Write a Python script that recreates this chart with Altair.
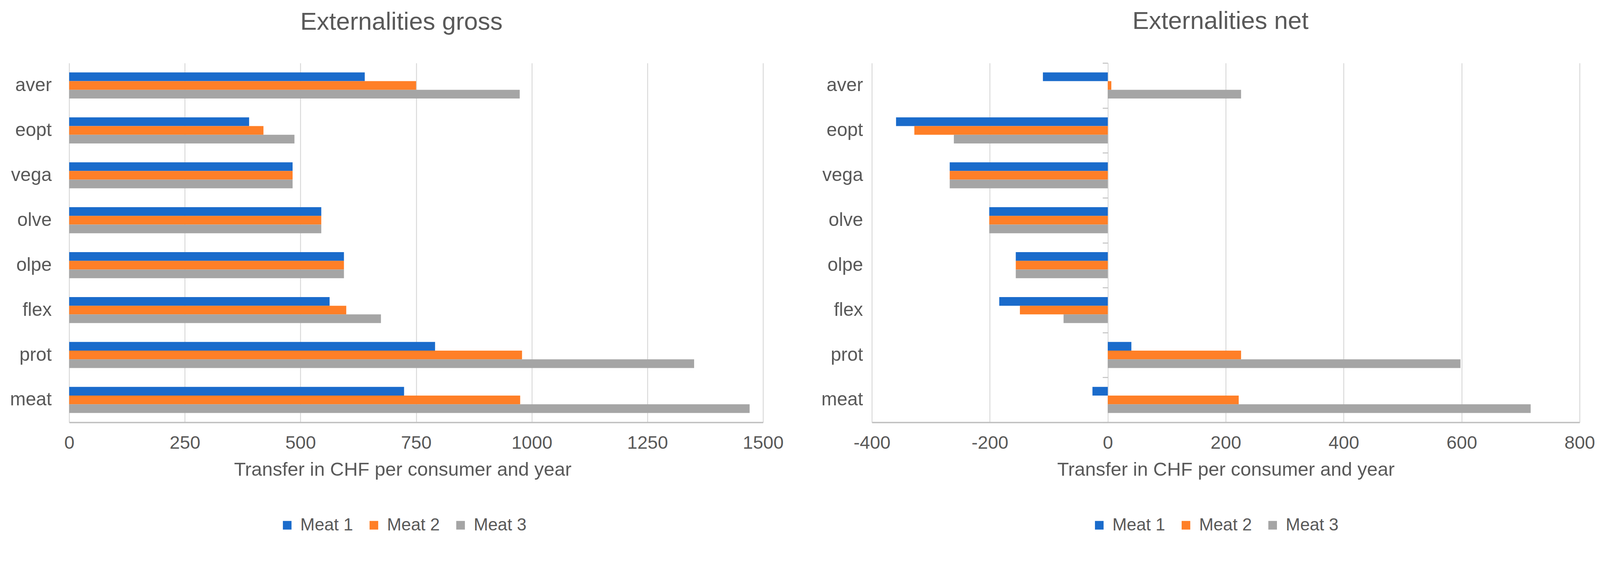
import altair as alt
import pandas as pd

categories = ["aver", "eopt", "vega", "olve", "olpe", "flex", "prot", "meat"]
series = ["Meat 1", "Meat 2", "Meat 3"]

gross_meat1 = [639, 389, 483, 545, 594, 563, 791, 724]
gross_meat2 = [750, 420, 483, 545, 594, 599, 979, 975]
gross_meat3 = [974, 487, 483, 545, 594, 674, 1351, 1471]

net_meat1 = [-110, -359, -268, -201, -156, -184, 40, -26]
net_meat2 = [6, -328, -268, -201, -156, -149, 226, 222]
net_meat3 = [226, -261, -268, -201, -156, -75, 598, 717]

gross_ticks = [0, 250, 500, 750, 1000, 1250, 1500]
net_ticks = [-400, -200, 0, 200, 400, 600, 800]

colors = ["#1A6BCB", "#FF7F27", "#A5A5A5"]
TEXT = "#595959"
GRID = "#d9d9d9"
DOMAIN = "#bfbfbf"
FONT = "Liberation Sans"
AXIS_TITLE = "Transfer in CHF per consumer and year"

PLOT_H = 957
LEFT_W = 1849
RIGHT_W = 1886


def long_df(vals_by_series):
    rows = []
    for s, vals in zip(series, vals_by_series):
        for c, v in zip(categories, vals):
            rows.append({"category": c, "series": s, "value": v})
    return pd.DataFrame(rows)


gross_df = long_df([gross_meat1, gross_meat2, gross_meat3])
net_df = long_df([net_meat1, net_meat2, net_meat3])


def x_enc(domain, ticks, title_x=None):
    axis_kwargs = dict(
        values=ticks, title=AXIS_TITLE,
        grid=True, gridColor=GRID, gridWidth=2.5,
        domain=True, domainColor=DOMAIN, domainWidth=3.5,
        ticks=False, tickSize=0, labelPadding=31, labelFontSize=49,
        labelColor=TEXT, labelFlush=False, labelOverlap=False,
        labelExpr="'' + datum.value",
        titleFontSize=51, titleColor=TEXT, titleFontWeight="normal",
        titlePadding=22,
    )
    if title_x is not None:
        axis_kwargs["titleX"] = title_x
    return alt.X("value:Q", scale=alt.Scale(domain=domain, nice=False, zero=False),
                 axis=alt.Axis(**axis_kwargs))


def y_enc(axis, p_inner=0.42, p_outer=0.21):
    return alt.Y("category:N", sort=categories, title=None,
                 scale=alt.Scale(paddingInner=p_inner, paddingOuter=p_outer), axis=axis)


def label_axis(pad):
    return alt.Axis(orient="left", domain=False, ticks=False, grid=False,
                    labelFontSize=50, labelColor=TEXT, labelPadding=pad, title=None)


def color_enc(lx, ly):
    return alt.Color(
        "series:N", scale=alt.Scale(domain=series, range=colors),
        legend=alt.Legend(orient="none", legendX=lx, legendY=ly, direction="horizontal",
                          title=None, columns=3, symbolType="square", symbolSize=529,
                          symbolStrokeWidth=0, symbolOpacity=1, labelFontSize=46,
                          labelColor=TEXT, labelOffset=12, columnPadding=32, padding=0,
                          labelLimit=400))


yoff = alt.YOffset("series:N", sort=series)

left = alt.Chart(gross_df).mark_bar().encode(
    x=x_enc([0, 1500], gross_ticks, title_x=LEFT_W / 2 - 36),
    y=y_enc(label_axis(47)),
    yOffset=yoff,
    color=color_enc(558, 1208),
).properties(
    width=LEFT_W, height=PLOT_H,
    title=alt.TitleParams("Externalities gross", dx=-39, fontSize=66, color=TEXT,
                          fontWeight="normal", offset=75, anchor="middle"),
)

right_bars = alt.Chart(net_df).mark_bar().encode(
    x=x_enc([-400, 800], net_ticks),
    y=y_enc(label_axis(24)),
    yOffset=yoff,
    color=color_enc(583, 1208),
)

zero_px = (0 - (-400)) / 1200 * RIGHT_W
right_ticks = alt.Chart(net_df).mark_point(opacity=0).encode(
    x=x_enc([-400, 800], net_ticks),
    y=y_enc(alt.Axis(orient="left", offset=-zero_px, labels=False, domain=False,
                     ticks=True, tickBand="extent", tickSize=14, tickColor=DOMAIN,
                     tickWidth=2.5, grid=False, title=None),
            p_inner=0, p_outer=0),
)

right = alt.layer(right_bars, right_ticks).resolve_scale(y="independent").resolve_axis(
    y="independent"
).properties(
    width=RIGHT_W, height=PLOT_H,
    title=alt.TitleParams("Externalities net", dx=-14, fontSize=66, color=TEXT,
                          fontWeight="normal", offset=75, anchor="middle"),
)

chart = alt.hconcat(left, right, spacing=99).resolve_scale(
    x="independent", y="independent", color="independent"
).resolve_legend(color="independent").properties(
    padding={"left": 17, "top": -13, "right": 5, "bottom": 5}
).configure(font=FONT).configure_view(stroke=None)

chart.save("out.html", embed_options={"renderer": "svg", "actions": False})
